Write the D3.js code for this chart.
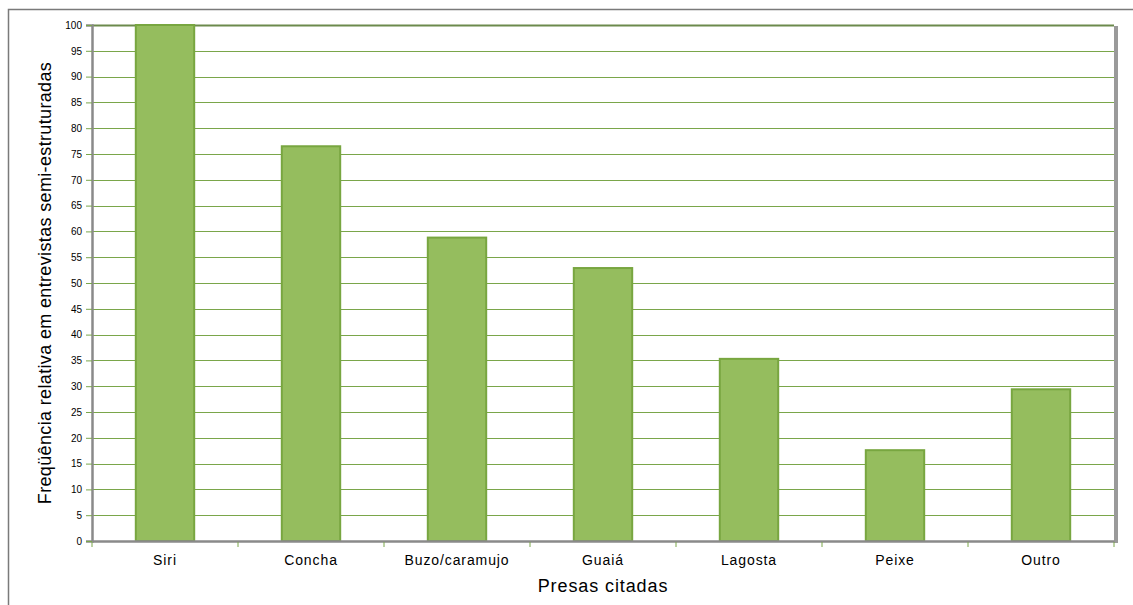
<!DOCTYPE html>
<html><head><meta charset="utf-8">
<script src="https://cdn.jsdelivr.net/npm/d3@7"></script>
<style>body{margin:0;background:#fff}svg{display:block}text{font-family:"Liberation Sans",Arial,sans-serif;fill:#000}</style>
</head><body><svg id="c" width="1133" height="605"></svg>
<script>
const categories = ["Siri","Concha","Buzo/caramujo","Guaiá","Lagosta","Peixe","Outro"];
const values = [100, 76.5, 58.8, 52.9, 35.3, 17.6, 29.4];
const yTicks = d3.range(0, 101, 5);
const xTitle = "Presas citadas";
const yTitle = "Freqüência relativa em entrevistas semi-estruturadas";

const svg = d3.select("#c");
const L = 92, R = 1114, T = 25, B = 541;
const x = d3.scaleBand().domain(categories).range([L, R]).paddingInner(0.6).paddingOuter(0.3);
const xb = d3.scaleBand().domain(categories).range([L, R]);
const y = d3.scaleLinear().domain([0, 100]).range([B, T]);

// outer frame
svg.append("rect").attr("x", 8.5).attr("y", 9.5).attr("width", 1200).attr("height", 700)
  .attr("fill", "none").attr("stroke", "#7a7a7a").attr("stroke-width", 1.5);

// right shadow
svg.append("rect").attr("x", R).attr("y", T + 1).attr("width", 4).attr("height", B - T + 1).attr("fill", "#9a9a9a");

// gridlines
svg.append("g").selectAll("line").data(yTicks.filter(d => d > 0)).join("line")
  .attr("x1", L).attr("x2", R)
  .attr("y1", d => Math.round(y(d)) + 0.5).attr("y2", d => Math.round(y(d)) + 0.5)
  .attr("stroke", d => d === 100 ? "#6c8a4c" : "#7aa64a").attr("stroke-width", d => d === 100 ? 2 : 1.2);

// bars
svg.append("g").selectAll("rect").data(categories).join("rect")
  .attr("x", d => x(d)).attr("width", x.bandwidth())
  .attr("y", (d, i) => y(values[i])).attr("height", (d, i) => B - y(values[i]))
  .attr("fill", "#95bd5e").attr("stroke", "#78a640").attr("stroke-width", 2);

// y axis
const ya = svg.append("g").attr("transform", `translate(${L},0)`)
  .call(d3.axisLeft(y).tickValues(yTicks).tickSize(6).tickPadding(4));
ya.select(".domain").attr("stroke", "#8a8a8a").attr("stroke-width", 2.5);
ya.selectAll(".tick line").attr("stroke", "#7aa64a");
ya.selectAll(".tick text").style("font-size", "10px").attr("fill", "#222");

// x axis
const xa = svg.append("g").attr("transform", `translate(0,${B})`)
  .call(d3.axisBottom(xb).tickSize(0).tickPadding(14));
xa.select(".domain").attr("stroke", "#8a8a8a").attr("stroke-width", 2.5);
xa.selectAll(".tick text").style("font-size", "14px").style("letter-spacing", "0.9px").attr("fill", "#111");
// boundary ticks
svg.append("g").selectAll("line").data(categories.concat(["_end"])).join("line")
  .attr("x1", (d, i) => L + i * xb.step()).attr("x2", (d, i) => L + i * xb.step())
  .attr("y1", B + 1).attr("y2", B + 6).attr("stroke", "#7aa64a").attr("stroke-width", 1);

// titles
svg.append("text").attr("x", (L + R) / 2).attr("y", 592).attr("text-anchor", "middle")
  .style("font-size", "18px").style("letter-spacing", "0.9px").text(xTitle);
svg.append("text").attr("transform", `translate(51,${(T + B) / 2}) rotate(-90)`).attr("text-anchor", "middle")
  .style("font-size", "18px").style("letter-spacing", "0.35px").text(yTitle);
</script></body></html>
